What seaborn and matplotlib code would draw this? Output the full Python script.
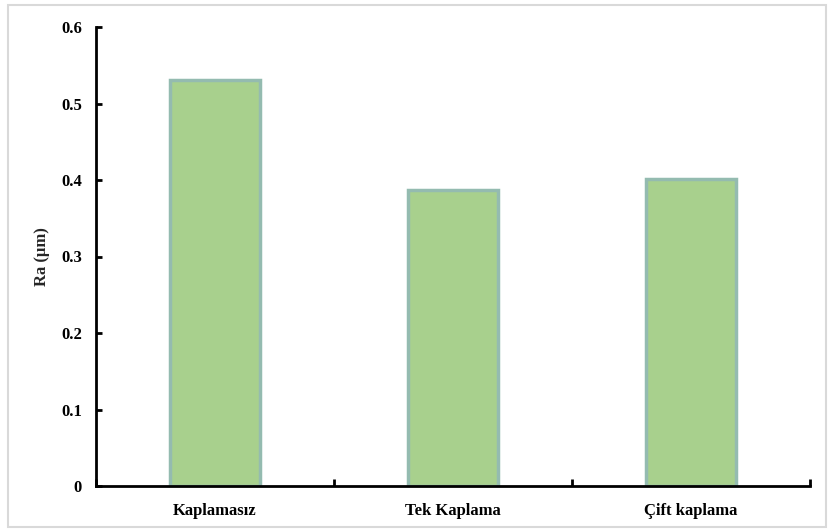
import matplotlib
matplotlib.use("Agg")
import matplotlib.pyplot as plt
import seaborn as sns
from matplotlib.patches import Rectangle

categories = ["Kaplamasız", "Tek Kaplama", "Çift kaplama"]
ra_values = [0.531, 0.387, 0.401]
y_ticks = [0, 0.1, 0.2, 0.3, 0.4, 0.5, 0.6]
y_tick_labels = ["0", "0.1", "0.2", "0.3", "0.4", "0.5", "0.6"]

sns.set_style("white")
plt.rcParams["font.family"] = ["Liberation Serif", "DejaVu Serif"]
plt.rcParams["font.weight"] = "bold"
plt.rcParams["xtick.direction"] = "in"
plt.rcParams["ytick.direction"] = "in"

fig = plt.figure(figsize=(8.34, 5.32), dpi=100)
ax = fig.add_axes([96 / 834, 1 - 486 / 532, 714 / 834, 459 / 532])

# light chart-area frame
fig.patches.append(Rectangle((8 / 834, 5 / 532), 818 / 834, 522 / 532,
                             transform=fig.transFigure, fill=False,
                             edgecolor="#d9d9d9", linewidth=1.5))

sns.barplot(x=categories, y=ra_values, color="#a8d08d", width=0.38,
            edgecolor="#94bbb0", linewidth=2.5, saturation=1, ax=ax)

ax.set_xlim(-0.5, 2.5)
ax.set_ylim(0, 0.6)
ax.set_yticks(y_ticks)
ax.set_yticklabels(y_tick_labels)
ax.set_xticks([-0.5, 0.5, 1.5, 2.5], minor=True)

for side in ["top", "right"]:
    ax.spines[side].set_visible(False)
for side in ["left", "bottom"]:
    ax.spines[side].set_color("black")
    ax.spines[side].set_linewidth(2)

ax.tick_params(axis="y", which="major", direction="in", length=4, width=2,
               pad=10, labelsize=12, colors="black", left=True)
ax.tick_params(axis="x", which="major", length=0, pad=12, labelsize=12,
               colors="black")
ax.tick_params(axis="x", which="minor", direction="in", length=5, width=2,
               bottom=True, colors="black")
for lbl in ax.get_xticklabels() + ax.get_yticklabels():
    lbl.set_fontweight("bold")

ax.set_ylabel("Ra (µm)", fontsize=12, fontweight="bold", labelpad=8)
ax.set_xlabel("")

fig.savefig("out.png", dpi=100)
